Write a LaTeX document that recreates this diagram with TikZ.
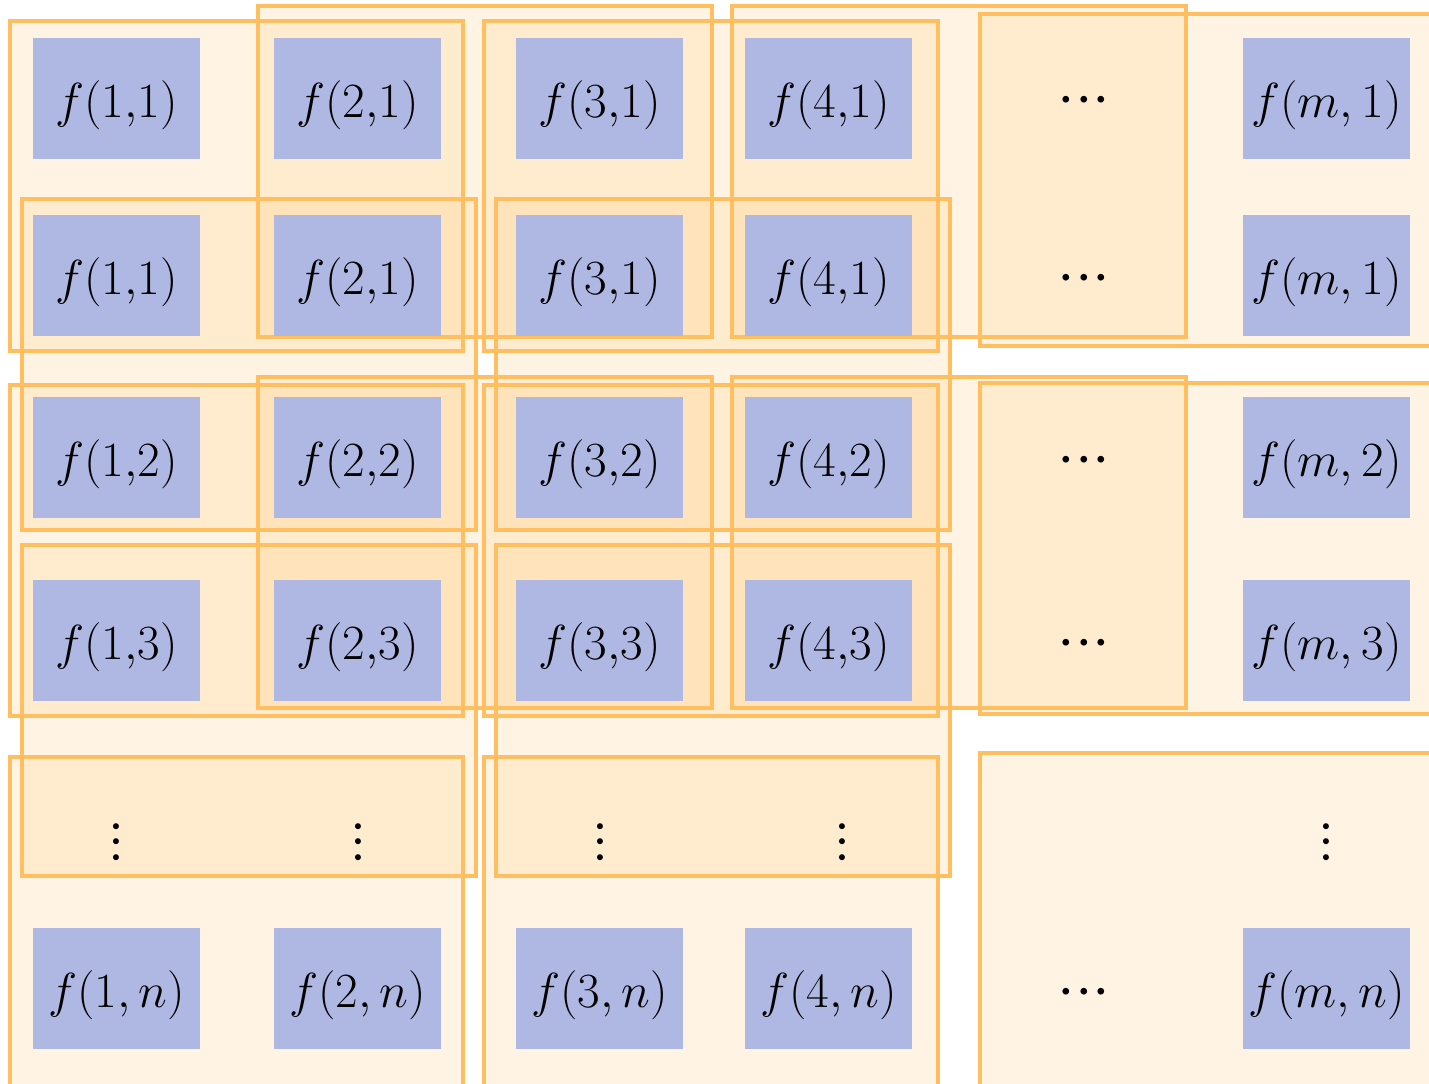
\documentclass[tikz,border=0pt]{standalone}
\usepackage{fix-cm}
\usepackage{amsmath,amssymb}
\usepackage{tikz}
\definecolor{cellblue}{RGB}{175,184,227}
\definecolor{winorange}{RGB}{255,190,95}
\newcommand{\rowdots}{{\cdot}{\cdot}{\cdot}}
\tikzset{
  cell/.style={rectangle, fill=cellblue, minimum width=3.34cm, minimum height=2.42cm,
    inner sep=0pt, text height=22pt, text depth=0pt, font=\fontsize{28}{32}\selectfont},
  win/.style={draw=winorange, line width=2pt, fill=winorange, fill opacity=0.17},
  hdot/.style={inner sep=0pt, text height=18pt, text depth=0pt, font=\fontsize{36}{40}\selectfont},
  vdot/.style={hdot, rotate=90, text height=16pt, font=\fontsize{32}{36}\selectfont}
}

\begin{document}
\begin{tikzpicture}[x=0.02cm, y=-0.02cm]
\useasboundingbox (0,0) rectangle (1429,1084);
\clip (0,0) rectangle (1429,1084);

% 2x2 windows
\foreach \xa/\ya/\xb/\yb in {10/21/463/351, 258/6/712/337, 484/21/938/351, 732/6/1186/337, 980/14/1445/346,
    22/199/476/530, 496/199/950/530,
    10/385/463/716, 258/377/712/708, 484/385/938/716, 732/377/1186/708, 980/383/1445/714,
    22/545/476/876, 496/545/950/876,
    10/757/463/1095, 484/757/938/1095, 980/753/1445/1095}
  \draw[win] (\xa,\ya) rectangle (\xb,\yb);

% cells
\foreach \col/\cx in {1/116.5, 2/357.5, 3/599.5, 4/828.5}{
  \node[cell] (f\col-a) at (\cx,98.5) {$f(\col{,}1)$};
  \node[cell] (f\col-b) at (\cx,275.5) {$f(\col{,}1)$};
  \node[cell] (f\col-c) at (\cx,457.5) {$f(\col{,}2)$};
  \node[cell] (f\col-d) at (\cx,640.5) {$f(\col{,}3)$};
  \node[cell] (f\col-n) at (\cx,988.5) {$f(\col,n)$};
}
\node[cell] (fm-a) at (1326.5,98.5) {$f(m,1)$};
\node[cell] (fm-b) at (1326.5,275.5) {$f(m,1)$};
\node[cell] (fm-c) at (1326.5,457.5) {$f(m,2)$};
\node[cell] (fm-d) at (1326.5,640.5) {$f(m,3)$};
\node[cell] (fm-n) at (1326.5,988.5) {$f(m,n)$};

% dots
\foreach \ry [count=\i] in {100,278,460,643,992}
  \node[hdot] (hd\i) at (1084,\ry) {$\rowdots$};
\foreach \vx [count=\i] in {116,358,600,842,1326}
  \node[vdot] (vd\i) at (\vx,842) {$\rowdots$};
\end{tikzpicture}
\end{document}
